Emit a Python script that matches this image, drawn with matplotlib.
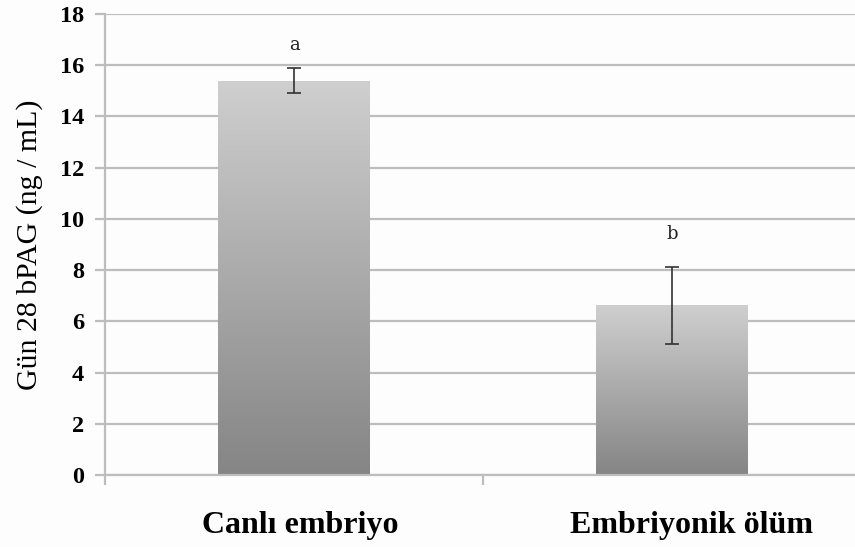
import numpy as np
import matplotlib
matplotlib.use("Agg")
import matplotlib.pyplot as plt
from matplotlib.transforms import ScaledTranslation

# --------------------------------------------------------
#  Data
# --------------------------------------------------------
categories = ["Canlı embriyo", "Embriyonik ölüm"]
means      = [15.4, 6.63]
errors     = [0.5, 1.5]
letters    = ["a", "b"]
letter_y   = [16.8, 9.4]
y_ticks    = list(range(0, 19, 2))

plt.rcParams["font.family"] = ["Liberation Serif", "DejaVu Serif"]

fig = plt.figure(figsize=(8.55, 5.47), dpi=100)
fig.patch.set_facecolor("#fdfdfd")
ax = fig.add_axes([105 / 855, 72 / 547, 756 / 855, 461 / 547])
ax.set_facecolor("#fdfdfd")

x = np.arange(len(categories))
bar_w = 0.40
grid_c = "#bdbdbd"

ax.set_xlim(-0.5, len(categories) - 0.5)
ax.set_ylim(0, 18)
ax.set_yticks(y_ticks)
ax.yaxis.grid(True, color=grid_c, linewidth=1.6)
ax.set_axisbelow(True)

# gradient bars: light on top, dark at the bottom
grad = np.linspace(0.0, 1.0, 256).reshape(-1, 1)
cmap = matplotlib.colors.LinearSegmentedColormap.from_list("g", ["#858585", "#cfcfcf"])
bars = ax.bar(x, means, width=bar_w, color="none", edgecolor="none", zorder=2)
for b, m in zip(bars, means):
    x0 = b.get_x()
    im = ax.imshow(grad, cmap=cmap, aspect="auto", origin="lower",
                   extent=[x0, x0 + bar_w, 0, m], zorder=2)
    im.set_clip_path(b)
ax.set_xlim(-0.5, len(categories) - 0.5)
ax.set_ylim(0, 18)

ax.errorbar(x, means, yerr=errors, fmt="none", ecolor="#333333",
            elinewidth=1.2, capsize=5, capthick=1.2, zorder=3)

for xi, lab, ly in zip(x, letters, letter_y):
    ax.text(xi, ly, lab, ha="center", va="center", fontsize=13, color="#222222",
            family=["DejaVu Serif"])

for s in ["top", "right"]:
    ax.spines[s].set_visible(False)
ax.spines["left"].set_color(grid_c)
ax.spines["left"].set_linewidth(1.6)
ax.spines["bottom"].set_color(grid_c)
ax.spines["bottom"].set_linewidth(1.6)

ax.tick_params(axis="y", length=7, color=grid_c, width=1.6, pad=8)
for t in ax.get_yticklabels():
    t.set_fontsize(17.5)
    t.set_fontweight("bold")

ax.set_xticks(x)
ax.set_xticklabels(categories, fontsize=23, fontweight="bold")
ax.tick_params(axis="x", length=0, pad=26)
ax.set_xticks(np.arange(-0.5, len(categories) + 0.5, 1.0), minor=True)
ax.tick_params(axis="x", which="minor", length=7, color=grid_c, width=1.6)

# the category labels sit a little right of the bar centres in the original
for t, dx in zip(ax.get_xticklabels(), [6, 19]):
    t.set_transform(t.get_transform() + ScaledTranslation(dx / 100, 0, fig.dpi_scale_trans))

ax.set_ylabel("Gün 28 bPAG (ng / mL)", fontsize=21.5, labelpad=12)

fig.savefig("out.png", dpi=100, facecolor=fig.get_facecolor())
